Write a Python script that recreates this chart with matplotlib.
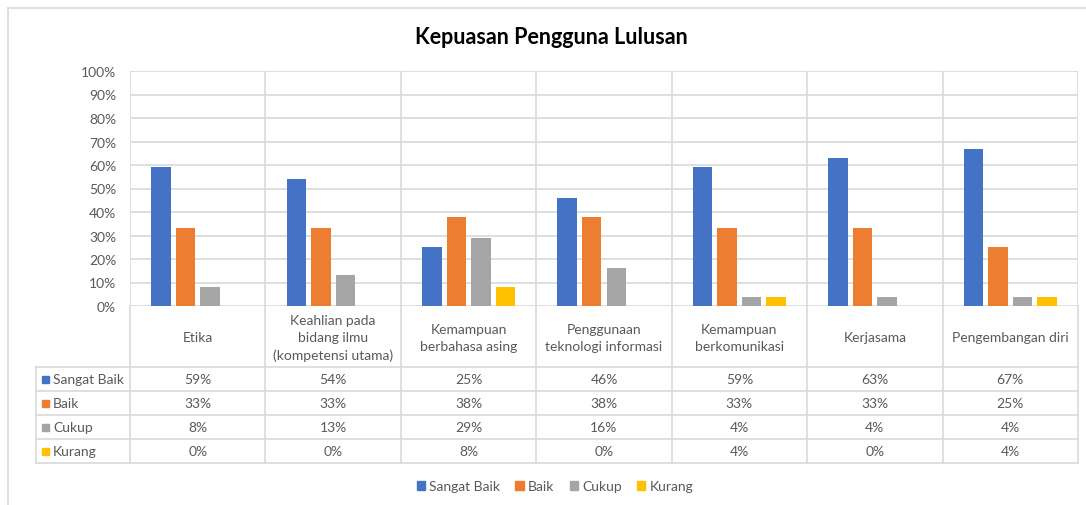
import matplotlib
matplotlib.use("Agg")
import matplotlib.pyplot as plt
from matplotlib.patches import Patch, Rectangle
from matplotlib.lines import Line2D
import numpy as np

categories = ["Etika", "Keahlian pada\nbidang ilmu\n(kompetensi utama)", "Kemampuan\nberbahasa asing",
              "Penggunaan\nteknologi informasi", "Kemampuan\nberkomunikasi", "Kerjasama", "Pengembangan diri"]
series_names = ["Sangat Baik", "Baik", "Cukup", "Kurang"]
sangat_baik = [59, 54, 25, 46, 59, 63, 67]
baik = [33, 33, 38, 38, 33, 33, 25]
cukup = [8, 13, 29, 16, 4, 4, 4]
kurang = [0, 0, 8, 0, 4, 0, 4]
series_values = [sangat_baik, baik, cukup, kurang]
colors = ["#4472C4", "#ED7D31", "#A5A5A5", "#FFC000"]
yticks = list(range(0, 101, 10))
title = "Kepuasan Pengguna Lulusan"

FONT = "Lato"
TXT = "#595959"
GRID = "#D9D9D9"
FS = 10

W, H = 1086, 506
fig = plt.figure(figsize=(W / 100, H / 100), dpi=100)
fig.patch.set_facecolor("white")

def fx(px):
    return px / W

def fy(py):
    return 1 - py / H

# plot area pixels
pl, pr, pt, pb = 130, 1078, 72, 307
ax = fig.add_axes([fx(pl), fy(pb), fx(pr - pl), (pb - pt) / H])
n = len(categories)
x = np.arange(n)
pitch = 0.181
bw = 0.144
for i, (vals, c) in enumerate(zip(series_values, colors)):
    ax.bar(x + (i - 1.5) * pitch, vals, width=bw, color=c, zorder=3)
ax.set_xlim(-0.5, n - 0.5)
ax.set_ylim(0, 100)
ax.set_yticks(yticks)
ax.set_yticklabels([f"{v}%" for v in yticks], fontsize=FS, color=TXT, family=FONT)
ax.tick_params(axis="y", length=0, pad=10)
ax.set_xticks([])
for yv in yticks:
    ax.axhline(yv, color=GRID, lw=1.2, zorder=1)
for k in range(n + 1):
    ax.axvline(k - 0.5, color=GRID, lw=1.2, zorder=1)
for s in ax.spines.values():
    s.set_visible(False)

# table
tl, tr, tt, tb = 36, 1078, 307, 464
label_h = 61
row_h = 24
cat_w = (pr - pl) / n
lw = (pl - tl) / cat_w
tax = fig.add_axes([fx(tl), fy(tb), fx(tr - tl), (tb - tt) / H])
tax.set_xlim(-0.5 - lw, n - 0.5)
total = label_h + row_h * len(series_names)
tax.set_ylim(total, 0)
tax.axis("off")
for k in range(n + 1):
    tax.plot([k - 0.5, k - 0.5], [0, total], color=GRID, lw=1.2, clip_on=False)
tax.plot([-0.5 - lw, -0.5 - lw], [label_h, total], color=GRID, lw=1.2, clip_on=False)
for r in range(len(series_names) + 1):
    yy = label_h + r * row_h
    tax.plot([-0.5 - lw, n - 0.5], [yy, yy], color=GRID, lw=1.2, clip_on=False)
for k, cat in enumerate(categories):
    tax.text(k, label_h / 2 + 1, cat, ha="center", va="center", fontsize=FS, color=TXT,
             family=FONT, linespacing=1.55)
for r, (name, vals, c) in enumerate(zip(series_names, series_values, colors)):
    yc = label_h + (r + 0.5) * row_h
    tax.add_patch(Rectangle((-0.5 - lw + 6 / cat_w, yc - 3.5), 7 / cat_w, 7, color=c, clip_on=False))
    tax.text(-0.5 - lw + 17 / cat_w, yc, name, ha="left", va="center", fontsize=FS, color=TXT, family=FONT)
    for k, v in enumerate(vals):
        tax.text(k, yc, f"{v}%", ha="center", va="center", fontsize=FS, color=TXT, family=FONT)

# title
fig.text(fx(551), fy(38), title, ha="center", va="center", fontsize=15.5, fontweight="bold",
         color="#000000", family=FONT)

# legend
handles = [Patch(facecolor=c, edgecolor=c) for c in colors]
leg = fig.legend(handles, series_names, loc="center", bbox_to_anchor=(fx(555), fy(487)), ncol=4,
                 frameon=False, handlelength=0.6, handleheight=0.6, handletextpad=0.3,
                 columnspacing=1.1, prop={"family": FONT, "size": FS})
for t in leg.get_texts():
    t.set_color(TXT)

# outer frame (partial, as in screenshot)
fig.add_artist(Line2D([fx(8), 1], [fy(9), fy(9)], color=GRID, lw=1.2))
fig.add_artist(Line2D([fx(8), fx(8)], [fy(9), 0], color=GRID, lw=1.2))

fig.savefig("out.png", dpi=100, facecolor="white")
